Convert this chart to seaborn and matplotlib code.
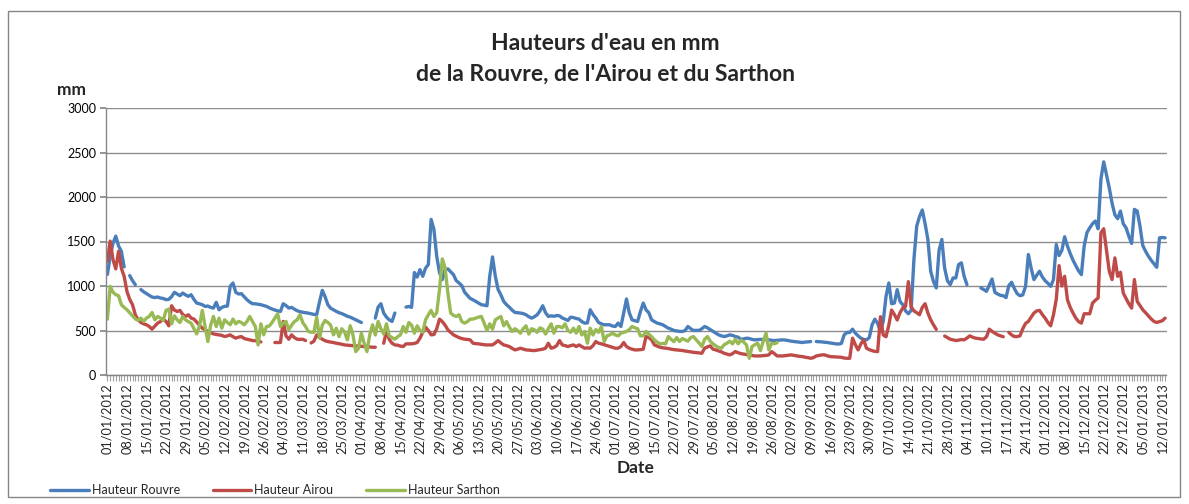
import numpy as np
import pandas as pd
import matplotlib
matplotlib.use("Agg")
import matplotlib.pyplot as plt
import seaborn as sns
from matplotlib.patches import Rectangle

N = None

# Daily water heights (mm), index 0 = 01/01/2012 ; None = missing value
rouvre = [
    1130, 1335, 1480, 1560, 1450, 1390, 1215, N, 1117, 1060,
    1015, N, 960, 935, 915, 895, 876, 870, 876, 865,
    860, 846, 850, 880, 929, 910, 891, 921, 900, 884,
    902, 850, 808, 800, 790, 771, 775, 760, 752, 816,
    733, 760, 771, 775, 996, 1034, 929, 910, 914, 880,
    846, 820, 801, 800, 795, 790, 780, 771, 755, 741,
    730, 720, 714, 801, 780, 752, 760, 740, 722, 712,
    705, 700, 695, 688, 680, 680, 820, 951, 880, 790,
    750, 733, 715, 700, 690, 675, 660, 650, 635, 620,
    605, 590, N, N, N, N, 639, 763, 801, 696,
    650, 620, 602, 696, N, N, N, 763, 770, 760,
    1151, 1100, 1184, 1109, 1200, 1241, 1748, 1636, 1335, 1150,
    1072, 1184, 1192, 1160, 1128, 1060, 1034, 1004, 930, 895,
    860, 845, 827, 810, 790, 785, 778, 1109, 1327, 1109,
    960, 900, 827, 790, 763, 730, 703, 700, 696, 690,
    677, 655, 639, 655, 677, 720, 778, 700, 658, 665,
    660, 668, 665, 640, 628, 613, 650, 645, 635, 628,
    600, 583, 585, 733, 680, 640, 590, 575, 564, 565,
    564, 550, 545, 583, 545, 696, 854, 700, 620, 610,
    602, 714, 808, 733, 700, 620, 600, 583, 575, 564,
    545, 526, 515, 500, 495, 490, 489, 500, 545, 520,
    500, 502, 500, 520, 545, 530, 510, 489, 470, 451,
    440, 432, 440, 451, 445, 432, 425, 402, 405, 414,
    410, 400, 395, 398, 400, 398, 395, 395, 390, 387,
    390, 392, 395, 392, 387, 380, 376, 372, 368, 365,
    370, 372, 376, N, 376, 374, 372, 368, 365, 360,
    355, 350, 348, 355, 451, 478, 478, 515, 470, 440,
    414, 400, 395, 420, 564, 628, 580, 489, 602, 884,
    1034, 801, 808, 959, 827, 790, 720, 688, 726, 1300,
    1673, 1780, 1854, 1700, 1523, 1166, 1050, 978, 1400, 1523,
    1200, 1060, 1015, 1090, 1090, 1241, 1260, 1109, 1015, N,
    N, N, N, 978, 960, 940, 1010, 1079, 929, 910,
    895, 891, 870, 1004, 1042, 970, 914, 891, 900, 996,
    1354, 1200, 1072, 1120, 1166, 1102, 1060, 1030, 996, 1072,
    1466, 1342, 1400, 1553, 1450, 1365, 1290, 1229, 1170, 1128,
    1450, 1600, 1654, 1700, 1730, 1643, 2200, 2395, 2250, 2100,
    1930, 1800, 1756, 1842, 1700, 1654, 1560, 1478, 1861, 1842,
    1673, 1455, 1390, 1335, 1290, 1250, 1210, 1541, 1545, 1541,
]

airou = [
    1278, 1504, 1297, 1192, 1391, 1200, 1109, 940, 850, 790,
    677, 620, 590, 575, 564, 545, 515, 550, 583, 600,
    628, 602, 553, 778, 730, 714, 726, 680, 658, 677,
    640, 628, 595, 560, 526, 510, 489, 475, 462, 455,
    451, 445, 432, 440, 451, 430, 414, 425, 432, 410,
    402, 395, 387, 385, 380, 372, N, N, N, N,
    365, 365, 365, 602, 440, 402, 451, 420, 402, 400,
    402, 387, N, 360, 380, 451, 420, 402, 385, 376,
    370, 365, 357, 352, 345, 338, 335, 332, 330, 327,
    325, 322, 320, 318, 315, 312, 312, N, N, 357,
    489, 400, 357, 338, 335, 325, 320, 350, 350, 350,
    355, 365, 414, 480, 538, 500, 451, 455, 520, 628,
    600, 560, 508, 480, 451, 435, 420, 410, 402, 400,
    395, 357, 352, 350, 345, 340, 338, 338, 338, 360,
    387, 360, 338, 330, 320, 300, 282, 290, 301, 292,
    282, 280, 276, 274, 280, 285, 290, 301, 357, 301,
    310, 330, 387, 338, 330, 320, 330, 338, 320, 338,
    320, 301, 305, 301, 330, 376, 357, 350, 340, 330,
    320, 310, 301, 301, 320, 365, 320, 301, 290, 282,
    282, 285, 290, 432, 420, 395, 338, 325, 312, 305,
    301, 298, 290, 285, 282, 278, 275, 270, 265, 260,
    255, 252, 248, 244, 301, 315, 327, 290, 282, 270,
    260, 244, 235, 226, 240, 263, 250, 240, 235, 230,
    226, 220, 214, 214, 214, 218, 220, 226, 263, 240,
    214, 214, 214, 218, 222, 226, 220, 215, 210, 207,
    200, 195, 188, 195, 214, 220, 226, 226, 215, 207,
    205, 203, 200, 199, 190, 188, 188, 414, 340, 282,
    350, 395, 301, 285, 274, 265, 263, 655, 450, 430,
    560, 730, 680, 618, 700, 752, 771, 1049, 768, 720,
    700, 677, 760, 801, 696, 620, 564, 513, N, N,
    438, 420, 402, 395, 387, 392, 398, 395, 415, 440,
    425, 414, 410, 405, 402, 430, 515, 490, 470, 451,
    440, 430, N, 478, 450, 432, 432, 440, 520, 580,
    602, 650, 696, 720, 726, 680, 639, 590, 553, 677,
    850, 1229, 1000, 1109, 846, 760, 696, 640, 600, 583,
    688, 688, 688, 808, 840, 865, 1598, 1643, 1400, 1166,
    1072, 1316, 1109, 1154, 921, 860, 800, 752, 1072, 827,
    780, 733, 700, 665, 630, 602, 590, 600, 610, 639,
]

sarthon = [
    628, 996, 930, 902, 891, 790, 760, 733, 700, 665,
    630, 613, 639, 602, 640, 658, 703, 620, 658, 640,
    613, 726, 741, 575, 665, 620, 590, 658, 620, 600,
    583, 520, 462, 553, 726, 545, 376, 560, 658, 545,
    639, 526, 620, 590, 564, 628, 575, 602, 590, 564,
    600, 658, 600, 545, 338, 575, 451, 545, 550, 590,
    640, 688, 545, 580, 602, 508, 560, 600, 620, 677,
    590, 545, 489, 480, 480, 650, 414, 560, 613, 590,
    560, 451, 526, 432, 520, 480, 395, 553, 450, 263,
    301, 470, 357, 263, 450, 564, 450, 602, 520, 460,
    575, 440, 420, 402, 430, 451, 545, 480, 590, 560,
    470, 553, 500, 480, 620, 677, 726, 658, 700, 959,
    1305, 1203, 921, 696, 670, 658, 677, 600, 583, 600,
    628, 628, 640, 650, 658, 583, 500, 575, 515, 620,
    640, 658, 553, 600, 540, 489, 520, 500, 470, 520,
    553, 460, 520, 508, 480, 530, 515, 460, 520, 575,
    470, 545, 545, 530, 575, 500, 480, 526, 470, 545,
    450, 489, 357, 526, 450, 510, 480, 545, 376, 440,
    450, 470, 450, 440, 470, 480, 489, 510, 545, 530,
    520, 440, 440, 490, 460, 430, 395, 370, 350, 355,
    350, 432, 400, 376, 420, 376, 410, 395, 380, 420,
    432, 395, 360, 320, 400, 432, 380, 350, 327, 310,
    301, 340, 357, 380, 350, 402, 350, 390, 370, 338,
    188, 320, 340, 357, 274, 380, 470, 282, 357, 350,
    365,
]

tick_labels = [
    "01/01/2012", "08/01/2012", "15/01/2012", "22/01/2012", "29/01/2012",
    "05/02/2012", "12/02/2012", "19/02/2012", "26/02/2012", "04/03/2012",
    "11/03/2012", "18/03/2012", "25/03/2012", "01/04/2012", "08/04/2012",
    "15/04/2012", "22/04/2012", "29/04/2012", "06/05/2012", "13/05/2012",
    "20/05/2012", "27/05/2012", "03/06/2012", "10/06/2012", "17/06/2012",
    "24/06/2012", "01/07/2012", "08/07/2012", "15/07/2012", "22/07/2012",
    "29/07/2012", "05/08/2012", "12/08/2012", "19/08/2012", "26/08/2012",
    "02/09/2012", "09/09/2012", "16/09/2012", "23/09/2012", "30/09/2012",
    "07/10/2012", "14/10/2012", "21/10/2012", "28/10/2012", "04/11/2012",
    "10/11/2012", "17/11/2012", "24/11/2012", "01/12/2012", "08/12/2012",
    "15/12/2012", "22/12/2012", "29/12/2012", "05/01/2013", "12/01/2013",
]

series_names = ["Hauteur Rouvre", "Hauteur Airou", "Hauteur Sarthon"]
series_colors = ["#4A7EBB", "#BE4B48", "#98B954"]
n_days = len(rouvre)

# ---- long table; a new "segment" starts after each missing value so gaps stay visible
frames = []
for name, vals in zip(series_names, [rouvre, airou, sarthon]):
    v = pd.Series(list(vals) + [None] * (n_days - len(vals)), dtype="float")
    seg = v.isna().cumsum()
    frames.append(pd.DataFrame({"day": np.arange(n_days), "value": v,
                                "series": name, "seg": seg}).dropna())
df = pd.concat(frames, ignore_index=True)

sns.set_theme(style="white")
plt.rcParams["font.family"] = ["Lato", "DejaVu Sans"]

W, H = 1189, 504
fig = plt.figure(figsize=(W / 100, H / 100), dpi=100)
fig.patch.set_facecolor("white")
ax = fig.add_axes([106 / W, 1 - 375 / H, (1166.5 - 106) / W, (375 - 108) / H])

sns.lineplot(data=df, x="day", y="value", hue="series", units="seg",
             estimator=None, hue_order=series_names, palette=series_colors,
             linewidth=2.4, ax=ax, legend=True)

ax.set_xlim(-0.5, n_days - 0.5)
ax.set_ylim(0, 3000)
ax.set_yticks(np.arange(0, 3001, 500))
ax.tick_params(axis="y", labelsize=9, length=4, color="#868686", pad=3,
               left=True, labelcolor="black")
ax.yaxis.grid(True, color="#8c8c8c", linewidth=1.0)
ax.set_axisbelow(True)

ax.set_xticks(np.arange(0, n_days, 7)[:len(tick_labels)])
ax.set_xticklabels(tick_labels, rotation=90, fontsize=9.2)
ax.set_xticks(np.arange(n_days), minor=True)
ax.tick_params(axis="x", which="both", length=4, color="#a0a0a0", width=0.8,
               bottom=True, pad=2)

for s in ["top", "right"]:
    ax.spines[s].set_visible(False)
for s in ["left", "bottom"]:
    ax.spines[s].set_color("#868686")
    ax.spines[s].set_linewidth(1.0)

ax.set_xlabel("")
ax.set_ylabel("")

handles, labels = ax.get_legend_handles_labels()
ax.get_legend().remove()
leg = fig.legend(handles, labels, loc="center left",
                 bbox_to_anchor=(50 / W, 1 - 490 / H), ncol=3, frameon=False,
                 fontsize=9, handlelength=3.1, handletextpad=0.25,
                 columnspacing=2.6, borderpad=0, borderaxespad=0)
for h in leg.get_lines():
    h.set_linewidth(2.4)

fig.text(605 / W, 1 - 44 / H, "Hauteurs d'eau en mm", ha="center", va="center",
         fontsize=16.5, fontweight="bold")
fig.text(605 / W, 1 - 74 / H, "de la Rouvre, de l'Airou et du Sarthon",
         ha="center", va="center", fontsize=16.5, fontweight="bold")
fig.text(72 / W, 1 - 90 / H, "mm", ha="center", va="center", fontsize=12.5,
         fontweight="bold")
fig.text(636 / W, 1 - 468 / H, "Date", ha="center", va="center", fontsize=12.5,
         fontweight="bold")

fig.patches.append(Rectangle((8 / W, 1 - 497 / H), (1180 - 8) / W, (497 - 11) / H,
                             transform=fig.transFigure, fill=False,
                             edgecolor="#868686", linewidth=1.0))

fig.savefig("out.png", dpi=100, facecolor="white")
